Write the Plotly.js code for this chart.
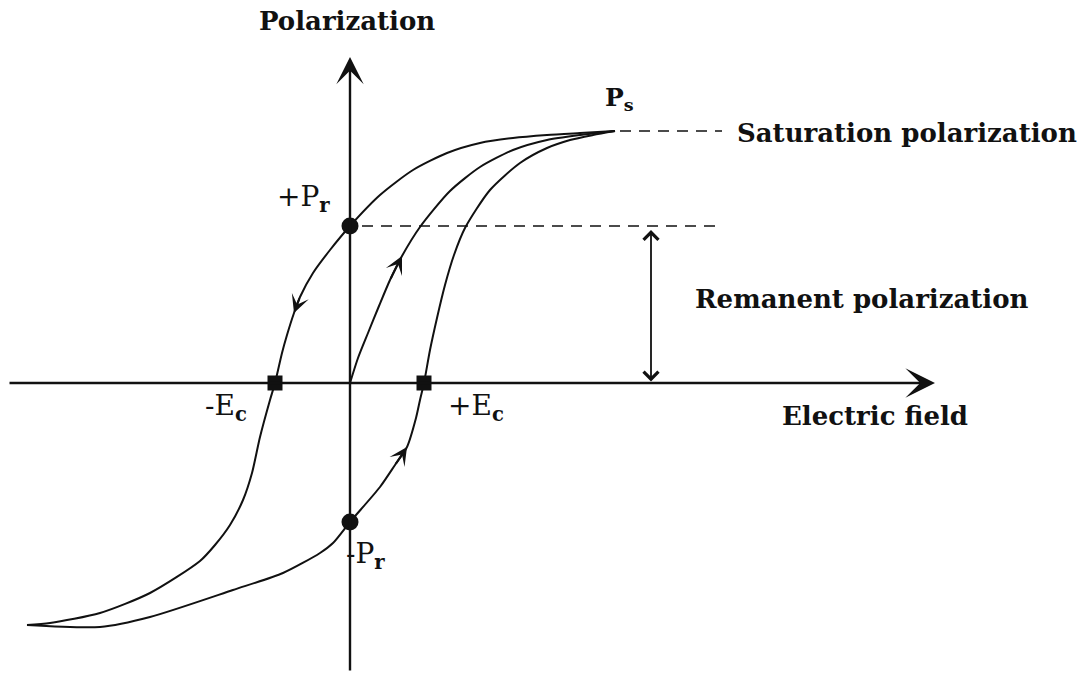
<!DOCTYPE html>
<html>
<head>
<meta charset="utf-8">
<script src="https://cdn.plot.ly/plotly-3.0.1.min.js"></script>
<style>
  html, body { margin: 0; padding: 0; background: #fff; }
  #chart { width: 1081px; height: 674px; }
</style>
</head>
<body>
<div id="chart"></div>
<script>
// Ferroelectric hysteresis loop: polarization P versus electric field E (arbitrary units)

// Descending branch: from saturation back through +Pr and -Ec to negative saturation
const descE = [2.65, 2.30, 1.97, 1.63, 1.30, 0.97, 0.63, 0.30, 0.00, -0.20, -0.37, -0.50, -0.56, -0.63, -0.68, -0.75, -0.80, -0.90, -0.98, -1.07, -1.20, -1.35, -1.50, -2.00, -2.50, -3.00, -3.23];
const descP = [2.52, 2.50, 2.48, 2.45, 2.40, 2.30, 2.13, 1.88, 1.57, 1.33, 1.10, 0.86, 0.70, 0.48, 0.30, 0.00, -0.17, -0.54, -0.90, -1.17, -1.42, -1.62, -1.78, -2.10, -2.30, -2.40, -2.42];

// Ascending branch: from negative saturation through -Pr and +Ec up to saturation
const ascE = [-3.23, -2.50, -2.00, -1.17, -0.67, -0.30, -0.17, 0.00, 0.30, 0.45, 0.57, 0.66, 0.70, 0.74, 0.80, 0.87, 0.95, 1.04, 1.15, 1.40, 1.70, 1.97, 2.20, 2.43, 2.65];
const ascP = [-2.42, -2.44, -2.34, -2.07, -1.90, -1.70, -1.60, -1.39, -1.04, -0.82, -0.64, -0.35, -0.17, 0.00, 0.33, 0.65, 0.98, 1.28, 1.55, 1.93, 2.20, 2.35, 2.43, 2.48, 2.52];

// Initial (virgin) polarization curve from the origin
const virginE = [0.00, 0.08, 0.18, 0.29, 0.40, 0.52, 0.70, 1.00, 1.30, 1.63, 1.97, 2.30, 2.65];
const virginP = [0.00, 0.25, 0.50, 0.77, 1.03, 1.27, 1.56, 1.92, 2.16, 2.33, 2.43, 2.48, 2.52];

// Characteristic values
const Ps = 2.52;          // saturation polarization
const EsatPoint = 2.65;   // field at saturation
const Pr = [1.57, -1.39]; // +Pr, -Pr
const Ec = [-0.75, 0.74]; // -Ec, +Ec

// Direction arrows: index of arrow head on each branch (tail = previous point)
const virginArrowIdx = 5;
const descArrowIdx = 12;
const ascArrowIdx = 10;

// Axis extents and guide-line extents
const eAxis = [-3.42, 5.85];
const pAxis = [-2.89, 3.26];
const guideEnd = 3.72;
const remanentE = 3.01;

const ink = '#111111';
const serif = 'DejaVu Serif, Liberation Serif, serif';

const curve = (x, y) => ({
  x, y, type: 'scatter', mode: 'lines', hoverinfo: 'skip',
  line: { color: ink, width: 2, shape: 'spline', smoothing: 0.7 }
});

const traces = [
  curve(descE, descP),
  curve(ascE, ascP),
  curve(virginE, virginP),
  // dashed guide at saturation polarization
  { x: [EsatPoint + 0.05, guideEnd], y: [Ps, Ps], type: 'scatter', mode: 'lines', hoverinfo: 'skip',
    line: { color: ink, width: 1.6, dash: '11px,8px' } },
  // dashed guide at remanent polarization
  { x: [0.12, guideEnd], y: [Pr[0], Pr[0]], type: 'scatter', mode: 'lines', hoverinfo: 'skip',
    line: { color: ink, width: 1.6, dash: '11px,8px' } },
  // +Pr and -Pr markers
  { x: [0, 0], y: Pr, type: 'scatter', mode: 'markers', hoverinfo: 'skip',
    marker: { symbol: 'circle', size: 17, color: ink } },
  // coercive field markers
  { x: Ec, y: [0, 0], type: 'scatter', mode: 'markers', hoverinfo: 'skip',
    marker: { symbol: 'square', size: 15, color: ink } }
];

const arrow = (x, y, ax, ay, head, size, width, side) => ({
  x, y, ax, ay, xref: 'x', yref: 'y', axref: 'x', ayref: 'y',
  text: '', showarrow: true, arrowhead: head, arrowsize: size, arrowwidth: width,
  arrowcolor: ink, arrowside: side || 'end', standoff: 0, startstandoff: 0
});

const label = (text, x, y, size, bold, xanchor) => ({
  text: bold ? '<b>' + text + '</b>' : text,
  x, y, xref: 'x', yref: 'y', showarrow: false,
  xanchor: xanchor || 'left', yanchor: 'middle',
  font: { family: serif, size, color: ink }
});

const annotations = [
  // coordinate axes
  arrow(eAxis[1], 0, eAxis[0], 0, 3, 1.9, 2.6),
  arrow(0, pAxis[1], 0, pAxis[0], 3, 1.9, 2.4),
  // remanent polarization span
  arrow(remanentE, Pr[0] - 0.04, remanentE, 0, 4, 1.6, 1.8, 'end+start'),
  // direction of travel on each branch
  arrow(virginE[virginArrowIdx], virginP[virginArrowIdx], virginE[virginArrowIdx - 1], virginP[virginArrowIdx - 1], 3, 1.5, 2),
  arrow(descE[descArrowIdx], descP[descArrowIdx], descE[descArrowIdx - 1], descP[descArrowIdx - 1], 3, 1.5, 2),
  arrow(ascE[ascArrowIdx], ascP[ascArrowIdx], ascE[ascArrowIdx - 1], ascP[ascArrowIdx - 1], 3, 1.5, 2),
  // text labels
  label('Polarization', -0.03, 3.62, 26, true, 'center'),
  label('P<sub>s</sub>', 2.53, 2.84, 25, true),
  label('Saturation polarization', 3.85, 2.50, 26, true),
  label('+P<sub><b>r</b></sub>', -0.75, 1.85, 28, false),
  label('Remanent polarization', 3.43, 0.84, 26, true),
  label('Electric field', 4.30, -0.33, 26, true),
  label('-E<sub><b>c</b></sub>', -1.47, -0.24, 28, false),
  label('+E<sub><b>c</b></sub>', 0.96, -0.24, 28, false),
  label('-P<sub><b>r</b></sub>', -0.06, -1.72, 28, false)
];

const layout = {
  width: 1081, height: 674,
  margin: { l: 0, r: 0, t: 0, b: 0 },
  paper_bgcolor: '#ffffff', plot_bgcolor: '#ffffff',
  showlegend: false,
  xaxis: { range: [-3.50, 7.31], visible: false, fixedrange: true },
  yaxis: { range: [-2.91, 3.83], visible: false, fixedrange: true },
  annotations
};

Plotly.newPlot('chart', traces, layout, { displayModeBar: false, staticPlot: true });
</script>
</body>
</html>
